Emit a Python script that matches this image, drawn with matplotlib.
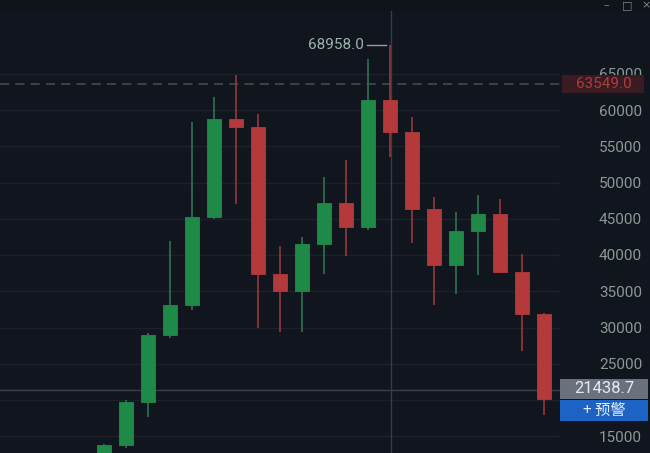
import matplotlib
matplotlib.use("Agg")
import matplotlib.pyplot as plt
from matplotlib.patches import Rectangle
import numpy as np

# ---- data (BTC monthly candles) ----
months = ['2020-10', '2020-11', '2020-12', '2021-01', '2021-02', '2021-03', '2021-04',
          '2021-05', '2021-06', '2021-07', '2021-08', '2021-09', '2021-10', '2021-11',
          '2021-12', '2022-01', '2022-02', '2022-03', '2022-04', '2022-05', '2022-06']
opens  = [10780, 13800, 19700, 29000, 33100, 45200, 58800, 57700, 37400, 35100, 41500,
          47200, 43900, 61400, 57000, 46300, 38600, 43300, 45600, 37700, 31900]
highs  = [14000, 19950, 29300, 41950, 58400, 61800, 64800, 59500, 41300, 42500, 50800,
          53100, 67000, 68958, 59100, 48000, 46000, 48300, 47700, 40100, 31950]
lows   = [10400, 13400, 17600, 28600, 32400, 45000, 47100, 30000, 29400, 29400, 37400,
          39800, 43400, 53500, 41700, 33100, 34600, 37300, 37700, 26800, 17900]
closes = [13800, 19700, 29000, 33100, 45200, 58800, 57700, 37400, 35100, 41500, 47200,
          43900, 61400, 57000, 46300, 38600, 43300, 45600, 37700, 31900, 20100]
yticks = [15000, 20000, 25000, 30000, 35000, 40000, 45000, 50000, 55000, 60000, 65000]
ytick_labels = ['15000', '', '25000', '30000', '35000', '40000', '45000', '50000',
                '55000', '60000', '65000']
max_high_label = '68958.0'
last_price = 63549.0
cross_price = 21438.7
cross_month = '2021-11'
alert_label = '+ 预警'

# ---- style ----
BG = '#11151e'
GRID = '#1b202b'
UP = '#1f8a48'
DOWN = '#b3393a'
UP_WICK = '#2f7350'
DOWN_WICK = '#94393a'
TXT = '#8a9a94'

W, H = 650, 453
fig = plt.figure(figsize=(W / 100, H / 100), dpi=100, facecolor=BG)
axw = 560 / W
ax = fig.add_axes([0, 0, axw, 1], facecolor=BG)

x = np.arange(len(months))
o = np.array(opens, float); c = np.array(closes, float)
h = np.array(highs, float); l = np.array(lows, float)
up = c >= o
colors = np.where(up, UP, DOWN)
wick_colors = np.where(up, UP_WICK, DOWN_WICK)

# pixel mapping: candle i at px 104 + 22 i ; price 60000 at py 110, 7.25 px / 1000
x0 = -104 / 22
x1 = (560 - 104) / 22
ax.set_xlim(x0, x1)
ybot = 60000 - (H - 110) / 0.00725
ytop = 60000 + 110 / 0.00725
ax.set_ylim(ybot, ytop)

# grid
for v in yticks:
    ax.axhline(v, color=GRID, lw=1, zorder=0)

# candles
ax.vlines(x, l, h, colors=wick_colors, lw=1.2, zorder=2)
bottoms = np.minimum(o, c)
heights = np.maximum(np.abs(c - o), 80)
ax.bar(x, heights, bottom=bottoms, width=0.64, color=colors, edgecolor=colors,
       lw=0.6, zorder=3)

# last price dashed line
ax.axhline(last_price, color='#44534e', lw=1.1, ls=(0, (6, 4)), zorder=1)

# crosshair
ci = months.index(cross_month)
ax.axvline(ci + 0.05, color='#363c48', lw=1, zorder=1)
ax.axhline(cross_price, color='#3a404c', lw=1, zorder=1)

# max high annotation
imax = int(np.argmax(h))
ax.plot([imax - 1.05, imax - 0.2], [h[imax], h[imax]], color='#8fa39c', lw=1, zorder=4)
ax.text(imax - 1.2, h[imax], max_high_label, color='#9db3ab', fontsize=11,
        family='Roboto', ha='right', va='center', zorder=4)

# right price axis
ax.yaxis.tick_right()
ax.set_yticks(yticks)
ax.set_yticklabels(ytick_labels)
ax.tick_params(axis='y', length=0, pad=28, labelsize=11, labelcolor=TXT)
for t in ax.get_yticklabels():
    t.set_family('Roboto')
ax.set_xticks([])
for s in ax.spines.values():
    s.set_visible(False)
ax.axvline(x1, color='#1c222d', lw=1)


def fx(px):
    return px / W


def fy(py):
    return 1 - py / H


def box(x0p, y0p, x1p, y1p, color, alpha=1.0):
    fig.patches.append(Rectangle((fx(x0p), fy(y1p)), fx(x1p) - fx(x0p), fy(y0p) - fy(y1p),
                                 transform=fig.transFigure, facecolor=color,
                                 edgecolor='none', alpha=alpha, zorder=5))


def ppy(v):
    return 110 + (60000 - v) * 0.00725


# last price label
yl = ppy(last_price)
box(562, yl - 9, 644, yl + 9, '#3a1b21')
fig.text(fx(604), fy(yl), f'{last_price:.1f}', color='#b03c3c', fontsize=11,
         family='Roboto', ha='center', va='center', zorder=6)

# crosshair label + alert button
yc = ppy(cross_price)
box(560, yc - 11, 648, yc + 9, '#6a717c')
fig.text(fx(604), fy(yc - 1), f'{cross_price:.1f}', color='#e6ebf2', fontsize=12,
         family='Roboto', ha='center', va='center', zorder=6)
box(560, yc + 10, 648, yc + 31, '#1c63c4')
fig.text(fx(604), fy(yc + 20.5), alert_label, color='#e8eef8', fontsize=11,
         family=['Noto Sans CJK SC', 'DejaVu Sans'], ha='center', va='center', zorder=6)

# title bar
box(0, 0, 650, 11, '#0f131a')
fig.text(fx(606), fy(5), '–', color='#7d8590', fontsize=8, ha='center', va='center', zorder=6)
fig.text(fx(627), fy(5), '□', color='#7d8590', fontsize=8, ha='center', va='center', zorder=6)
fig.text(fx(646), fy(5), '×', color='#7d8590', fontsize=8, ha='center', va='center', zorder=6)

fig.savefig('out.png', dpi=100, facecolor=BG)
